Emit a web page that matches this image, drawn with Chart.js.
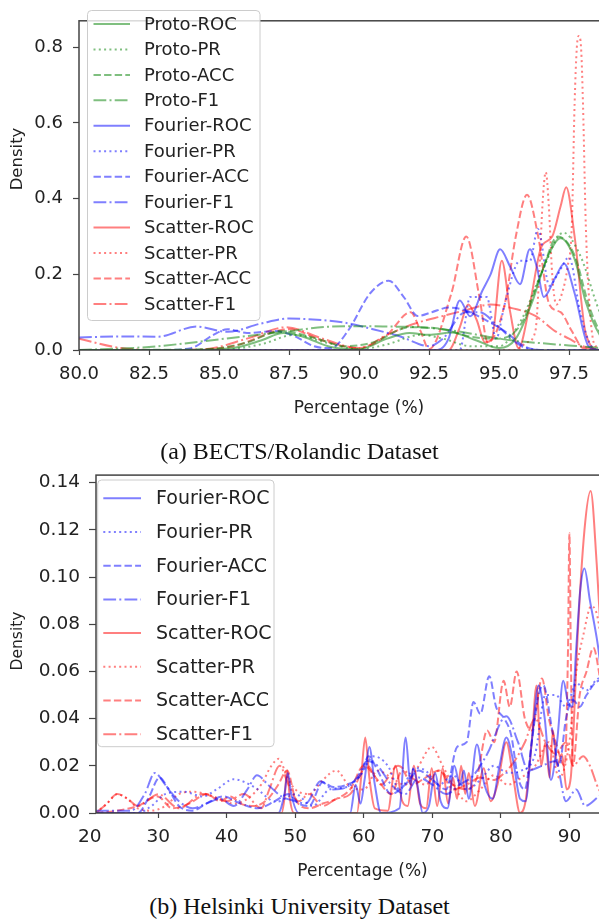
<!DOCTYPE html>
<html>
<head>
<meta charset="utf-8">
<script src="https://cdn.jsdelivr.net/npm/chart.js@4.4.1/dist/chart.umd.min.js"></script>
<style>
  body { margin: 0; background: #fff; width: 599px; height: 921px; position: relative; overflow: hidden; }
  canvas { position: absolute; left: 0; }
  #chartA { top: 0; }
  #chartB { top: 455px; }
  .caption { position: absolute; left: 0; width: 599px; text-align: center; font-family: "Liberation Serif"; font-size: 24px; line-height: 26px; color: #111; }
</style>
</head>
<body>
<canvas id="chartA" width="639" height="425"></canvas>
<canvas id="chartB" width="629" height="430"></canvas>
<div class="caption" style="top:438px">(a) BECTS/Rolandic Dataset</div>
<div class="caption" style="top:893px">(b) Helsinki University Dataset</div>
<script>
// ---- (a) BECTS/Rolandic : percentage vs density
const aProtoRocX = [80, 84, 85.5, 86.5, 87.3, 88, 89, 90, 91, 91.8, 92.5, 93.3, 94.2, 95, 95.6, 96.2, 96.7, 97.2, 97.7, 98.1, 98.6, 99.2, 100];
const aProtoRocY = [0, 0, 0.005, 0.025, 0.045, 0.035, 0.008, 0.002, 0.03, 0.045, 0.04, 0.046, 0.025, 0.005, 0.03, 0.13, 0.24, 0.295, 0.24, 0.127, 0.04, 0.005, 0];
const aProtoPrX = [80, 85, 86.5, 87.7, 88.8, 90, 91, 92.2, 93, 94, 95, 95.8, 96.5, 97.3, 97.9, 98.6, 99.3, 100];
const aProtoPrY = [0, 0, 0.015, 0.04, 0.02, 0.002, 0.015, 0.04, 0.03, 0.01, 0.01, 0.08, 0.2, 0.31, 0.25, 0.1, 0.01, 0];
const aProtoAccX = [80, 84.5, 86, 87.2, 88.5, 89.5, 90.5, 91.8, 93, 94, 95, 95.8, 96.5, 97.1, 97.7, 98.2, 98.6, 99.3, 100];
const aProtoAccY = [0, 0.002, 0.02, 0.05, 0.03, 0.01, 0.02, 0.06, 0.055, 0.035, 0.03, 0.07, 0.2, 0.3, 0.25, 0.12, 0.05, 0.01, 0];
const aProtoF1X = [80, 82.5, 85, 87.5, 89, 90, 91, 92.2, 93.5, 94.6, 95.5, 96.5, 97.5, 98.6, 100];
const aProtoF1Y = [0, 0.008, 0.028, 0.05, 0.062, 0.063, 0.062, 0.06, 0.05, 0.035, 0.025, 0.018, 0.012, 0.006, 0.002];

const aFourierRocX = [80, 92.8, 93.2, 93.6, 93.97, 94.4, 94.7, 95.04, 95.4, 95.75, 96.1, 96.35, 96.6, 97, 97.33, 97.7, 98.2, 98.6, 100];
const aFourierRocY = [0, 0, 0.03, 0.131, 0.089, 0.156, 0.2, 0.266, 0.22, 0.174, 0.266, 0.22, 0.14, 0.19, 0.228, 0.15, 0.01, 0, 0];
const aFourierPrX = [80, 93.6, 93.97, 94.56, 94.9, 95.2, 95.75, 96.1, 96.39, 96.8, 97.1, 97.5, 97.9, 98.3, 98.6, 100];
const aFourierPrY = [0, 0, 0.14, 0.14, 0.03, 0.12, 0.236, 0.235, 0.32, 0.17, 0.2, 0.245, 0.1, 0.01, 0, 0];
const aFourierAccX = [80, 83, 84, 84.8, 85.3, 86, 87, 87.6, 88.4, 89, 89.6, 90.4, 91.06, 91.6, 92.1, 92.6, 93.2, 93.8, 94.5, 95.2, 95.9, 96.5, 100];
const aFourierAccY = [0, 0, 0.005, 0.04, 0.055, 0.045, 0.05, 0.04, 0.01, 0.005, 0.05, 0.15, 0.183, 0.14, 0.09, 0.1, 0.112, 0.105, 0.08, 0.05, 0.01, 0, 0];
const aFourierF1X = [80, 81.5, 82.8, 84.2, 85.3, 86.5, 87.5, 88.5, 89.5, 90.5, 91.5, 92.5, 93, 93.8, 94.3, 95, 95.8, 96.5, 100];
const aFourierF1Y = [0.033, 0.036, 0.035, 0.062, 0.048, 0.07, 0.083, 0.08, 0.072, 0.055, 0.035, 0.01, 0.03, 0.1, 0.1, 0.06, 0.01, 0, 0];

const aScatterRocX = [80, 93.2, 93.6, 93.9, 94.2, 94.5, 94.75, 95.1, 95.4, 95.7, 96.1, 96.5, 96.9, 97.2, 97.4, 97.7, 98.1, 98.6, 100];
const aScatterRocY = [0, 0, 0.06, 0.12, 0.08, 0.02, 0.03, 0.236, 0.1, 0.005, 0.12, 0.27, 0.3, 0.38, 0.43, 0.3, 0.043, 0, 0];
const aScatterPrX = [80, 95.6, 96, 96.3, 96.45, 96.55, 96.67, 96.78, 96.9, 97.05, 97.25, 97.45, 97.6, 97.7, 97.78, 97.85, 97.93, 98, 98.1, 98.25, 98.45, 100];
const aScatterPrY = [0, 0, 0.02, 0.05, 0.22, 0.38, 0.47, 0.38, 0.2, 0.12, 0.15, 0.22, 0.33, 0.65, 0.8, 0.83, 0.8, 0.65, 0.33, 0.1, 0.01, 0];
const aScatterAccX = [80, 84, 85.5, 87.5, 88.7, 90, 91, 91.84, 92.2, 92.5, 93.3, 93.83, 94.3, 94.6, 95.2, 95.6, 96, 96.4, 96.8, 97.2, 97.6, 98, 98.6, 100];
const aScatterAccY = [0, 0, 0.01, 0.055, 0.025, 0.005, 0.04, 0.1, 0.05, 0.002, 0.15, 0.3, 0.14, 0.02, 0.12, 0.3, 0.41, 0.3, 0.12, 0.1, 0.05, 0.005, 0, 0];
const aScatterF1X = [80, 81.5, 83, 84.5, 86, 87.4, 88.7, 90, 91, 92, 93, 93.8, 94.7, 95.5, 96.3, 97, 97.5, 98, 98.6, 100];
const aScatterF1Y = [0.03, 0.005, 0, 0.002, 0.03, 0.06, 0.03, 0.005, 0.04, 0.07, 0.09, 0.105, 0.12, 0.11, 0.09, 0.05, 0.03, 0.01, 0, 0];

// ---- (b) Helsinki University
const bFourierRocX = [20.9, 47.5, 48.4, 48.9, 49.4, 50.5, 58, 58.8, 59.5, 60.1, 60.8, 61.6, 62.5, 65.2, 66.1, 66.8, 67.2, 67.8, 68.6, 69.5, 70.4, 71.2, 72.2, 73.2, 74, 74.6, 75.3, 76.5, 77.6, 78.8, 79.8, 80.8, 81.8, 82.8, 83.6, 84.5, 85.5, 86.4, 87.3, 88.2, 89.1, 89.8, 90.4, 91, 91.6, 92.2, 93, 94, 94.3, 96, 98.7];
const bFourierRocY = [0, 0, 0.008, 0.017, 0.008, 0, 0, 0.012, 0.004, 0.014, 0.028, 0.012, 0, 0.002, 0.032, 0.012, 0.019, 0.012, 0, 0.003, 0.017, 0.005, 0.002, 0.02, 0.012, 0.018, 0.006, 0.029, 0.012, 0.006, 0.02, 0.032, 0.022, 0.006, 0.005, 0.03, 0.054, 0.04, 0.014, 0.03, 0.056, 0.047, 0.045, 0.07, 0.095, 0.1036, 0.09, 0.074, 0.068, 0.02, 0];
const bFourierPrX = [20.9, 27, 29, 31, 33.7, 36.5, 38.5, 41, 44, 47.2, 50, 52.5, 55, 57.5, 59.5, 61.4, 63.5, 65.2, 67.5, 69, 71, 73, 75, 77, 79, 81, 83, 85, 86.5, 88, 89.5, 91, 92.5, 94.3, 96, 98.7];
const bFourierPrY = [0, 0, 0.003, 0.008, 0.009, 0.007, 0.01, 0.0143, 0.011, 0.0047, 0.008, 0.003, 0.01, 0.011, 0.016, 0.024, 0.02, 0.01, 0.019, 0.018, 0.012, 0.016, 0.01, 0.014, 0.02, 0.017, 0.018, 0.025, 0.05, 0.05, 0.045, 0.055, 0.052, 0.057, 0.03, 0.005];
const bFourierAccX = [20.9, 27, 28.5, 30.2, 31.5, 33, 35, 37, 39.5, 42, 44.5, 47, 49, 50.5, 52, 54, 55.5, 57.5, 59.5, 60.7, 62, 64, 66, 68, 70, 72, 73.6, 75, 76, 77, 78.3, 79.3, 80.5, 81.5, 82.5, 83.5, 84.5, 85.5, 86.2, 87.5, 88.5, 89.5, 90.5, 91.5, 92.5, 94.3, 96, 98.7];
const bFourierAccY = [0, 0, 0.006, 0.015, 0.01, 0.003, 0.001, 0.004, 0.007, 0.004, 0.002, 0.005, 0.008, 0.004, 0.003, 0.013, 0.011, 0.012, 0.016, 0.024, 0.018, 0.008, 0.012, 0.018, 0.014, 0.01, 0.028, 0.03, 0.047, 0.042, 0.058, 0.045, 0.04, 0.033, 0.015, 0.01, 0.03, 0.05, 0.054, 0.035, 0.02, 0.04, 0.048, 0.045, 0.05, 0.056, 0.03, 0.005];
const bFourierF1X = [20.9, 26, 28, 29.5, 31, 33, 35, 37, 39, 41, 43, 44.4, 46, 48, 50, 51.5, 53.7, 55.5, 57.5, 59, 60.5, 62, 64, 66, 68, 70, 72, 74, 76, 78, 80.8, 82.5, 84, 86, 88, 89.5, 91, 92.3, 94.3, 96, 98.7];
const bFourierF1Y = [0.001, 0.001, 0.008, 0.017, 0.012, 0.005, 0.002, 0.004, 0.006, 0.003, 0.01, 0.016, 0.012, 0.007, 0.005, 0.004, 0.0135, 0.01, 0.011, 0.015, 0.022, 0.02, 0.012, 0.008, 0.015, 0.012, 0.008, 0.012, 0.016, 0.025, 0.041, 0.03, 0.018, 0.02, 0.022, 0.005, 0.01, 0.003, 0.007, 0.01, 0.005];

const bScatterRocX = [20.9, 48, 48.4, 48.8, 49.2, 49.8, 59, 59.6, 60.2, 60.8, 61.6, 63.5, 64.6, 65.6, 66.4, 67.3, 68.2, 69.1, 69.9, 70.7, 71.5, 72.3, 73, 73.6, 74.2, 74.8, 75.3, 76.2, 77.5, 78.5, 79.5, 80.8, 81.8, 82.8, 83.6, 84.5, 85.2, 85.9, 86.5, 87.1, 87.6, 88.2, 88.9, 89.6, 90.2, 90.6, 91.2, 92.2, 93.1, 94, 94.3, 96, 98.7];
const bScatterRocY = [0, 0, 0.006, 0.018, 0.006, 0, 0, 0.015, 0.032, 0.015, 0.002, 0.001, 0.02, 0.005, 0.003, 0.02, 0.004, 0.002, 0.019, 0.003, 0.019, 0.004, 0.015, 0.006, 0.02, 0.008, 0.017, 0.003, 0.019, 0.005, 0.012, 0.03, 0.015, 0, 0.005, 0.03, 0.054, 0.02, 0.03, 0.015, 0.035, 0.02, 0.025, 0.01, 0.015, 0.035, 0.075, 0.12, 0.1365, 0.105, 0.09, 0.02, 0];
const bScatterPrX = [20.9, 22.5, 24, 25.5, 27, 29, 31, 33, 35, 37, 39, 41, 43, 45, 46.5, 47.6, 48.8, 50, 52, 54, 56, 58, 60, 62, 64, 66, 68, 69.9, 71.5, 73, 75, 77, 79, 81, 83, 85, 87, 88.5, 90, 91, 92, 93.2, 94.3, 96, 98.7];
const bScatterPrY = [0, 0.004, 0.008, 0.006, 0.002, 0.001, 0.003, 0.008, 0.009, 0.008, 0.006, 0.004, 0.006, 0.012, 0.02, 0.023, 0.015, 0.01, 0.008, 0.014, 0.018, 0.011, 0.01, 0.018, 0.015, 0.012, 0.02, 0.028, 0.02, 0.012, 0.005, 0.01, 0.016, 0.012, 0.015, 0.02, 0.03, 0.015, 0.03, 0.06, 0.075, 0.0877, 0.08, 0.03, 0.005];
const bScatterAccX = [20.9, 24, 27, 29.9, 32, 34.5, 37.1, 39, 40.5, 42, 44, 46, 47.5, 48.8, 50, 52, 54, 56, 58, 60, 62, 64, 65.6, 67, 69, 71, 73, 75, 76.5, 78, 79, 80.4, 81.3, 82.3, 83.5, 84.5, 86, 87, 88, 89.3, 89.8, 90, 90.2, 90.5, 91.5, 92.5, 93.5, 94.3, 96, 98.7];
const bScatterAccY = [0, 0.001, 0.003, 0.007, 0.002, 0.004, 0.008, 0.005, 0.007, 0.004, 0.003, 0.006, 0.012, 0.018, 0.006, 0.002, 0.004, 0.006, 0.01, 0.02, 0.014, 0.008, 0.018, 0.012, 0.015, 0.018, 0.012, 0.01, 0.015, 0.035, 0.03, 0.056, 0.045, 0.06, 0.04, 0.035, 0.057, 0.04, 0.03, 0.02, 0.07, 0.1186, 0.07, 0.02, 0.05, 0.06, 0.07, 0.06, 0.02, 0.003];
const bScatterF1X = [20.9, 22.5, 24, 25.5, 27, 30, 33, 36.5, 40, 42.5, 45, 46.2, 47.7, 49, 50.5, 52, 54, 56, 58, 60.5, 62.5, 65, 67, 69, 71, 73, 75, 77, 79, 80.5, 82, 83.5, 85, 86.5, 88, 89.5, 90.5, 92, 93, 94.3, 96, 98.7];
const bScatterF1Y = [0, 0.004, 0.008, 0.006, 0.003, 0.008, 0.002, 0.008, 0.005, 0.008, 0.002, 0.01, 0.02, 0.012, 0.005, 0.008, 0.003, 0.006, 0.008, 0.02, 0.012, 0.02, 0.015, 0.012, 0.018, 0.01, 0.012, 0.015, 0.014, 0.017, 0.022, 0.03, 0.04, 0.03, 0.025, 0.03, 0.02, 0.024, 0.02, 0.01, 0.005, 0.002];

const aTicksX = [80, 82.5, 85, 87.5, 90, 92.5, 95, 97.5];
const bTicksX = [20, 30, 40, 50, 60, 70, 80, 90];

// ---- styles
const GREEN = 'rgba(0,128,0,0.5)';
const BLUE = 'rgba(0,0,255,0.5)';
const RED = 'rgba(255,0,0,0.5)';
const DASH = { solid: [], dotted: [2, 3.3], dashed: [7.4, 3.2], dashdot: [12.8, 3.2, 2, 3.2] };
const INK = '#222';
const AXIS = '#444';

Chart.defaults.font.family = 'DejaVu Sans';
Chart.defaults.color = INK;
Chart.defaults.animation = false;

function series(label, xs, ys, color, dash) {
  return {
    label: label,
    data: xs.map((x, i) => ({ x: x, y: ys[i] })),
    borderColor: color,
    borderDash: DASH[dash],
    borderWidth: 2,
    pointRadius: 0,
    fill: false,
    cubicInterpolationMode: 'monotone'
  };
}

// all four spines, drawn over the curves like matplotlib
const spines = {
  id: 'spines',
  afterDatasetsDraw(chart) {
    const ctx = chart.ctx, a = chart.chartArea;
    ctx.save();
    ctx.strokeStyle = AXIS;
    ctx.lineWidth = 1.5;
    ctx.strokeRect(a.left, a.top, a.right - a.left, a.bottom - a.top);
    ctx.restore();
  }
};

// matplotlib-like framed legend in the upper-left corner
const boxLegend = {
  id: 'boxLegend',
  afterDatasetsDraw(chart, args, o) {
    const ctx = chart.ctx;
    ctx.save();
    ctx.beginPath();
    ctx.roundRect(o.x, o.y, o.w, o.h, 4);
    ctx.fillStyle = 'rgba(255,255,255,0.8)';
    ctx.fill();
    ctx.strokeStyle = '#cccccc';
    ctx.lineWidth = 1;
    ctx.stroke();
    ctx.font = o.size + 'px "DejaVu Sans"';
    ctx.textBaseline = 'middle';
    chart.data.datasets.forEach((ds, i) => {
      const y = o.first + i * o.step;
      ctx.beginPath();
      ctx.setLineDash(ds.borderDash);
      ctx.strokeStyle = ds.borderColor;
      ctx.lineWidth = ds.borderWidth;
      ctx.moveTo(o.lineFrom, y);
      ctx.lineTo(o.lineTo, y);
      ctx.stroke();
      ctx.setLineDash([]);
      ctx.fillStyle = INK;
      ctx.fillText(ds.label, o.textX, y + 1);
    });
    ctx.restore();
  }
};

// rotated y title placed where the reference has it
const sideLabel = {
  id: 'sideLabel',
  afterDraw(chart, args, o) {
    const ctx = chart.ctx;
    ctx.save();
    ctx.translate(o.x, o.y);
    ctx.rotate(-Math.PI / 2);
    ctx.font = o.size + 'px "DejaVu Sans"';
    ctx.fillStyle = INK;
    ctx.textAlign = 'center';
    ctx.textBaseline = 'middle';
    ctx.fillText('Density', 0, 0);
    ctx.restore();
  }
};

function axisX(min, max, ticks, fmt, height, fontSize, tickPad, titlePad) {
  return {
    type: 'linear', min: min, max: max,
    afterBuildTicks: ax => { ax.ticks = ticks.map(v => ({ value: v })); },
    afterFit: ax => { ax.height = height; },
    grid: {
      drawOnChartArea: false, tickLength: 5, tickWidth: 1.2,
      tickColor: c => (c.tick && c.tick.value < min ? 'rgba(0,0,0,0)' : AXIS)
    },
    border: { display: false },
    ticks: { autoSkip: false, maxRotation: 0, padding: tickPad, font: { size: fontSize }, callback: fmt },
    title: { display: true, text: 'Percentage (%)', font: { size: 17 }, padding: { top: 0, bottom: titlePad } }
  };
}

function axisY(max, step, fmt, width, fontSize, tickLen, tickPad) {
  return {
    min: 0, max: max,
    afterFit: ax => { ax.width = width; },
    grid: { drawOnChartArea: false, tickLength: tickLen, tickWidth: 1.2, tickColor: AXIS },
    border: { display: false },
    ticks: { stepSize: step, includeBounds: false, padding: tickPad, font: { size: fontSize }, callback: fmt }
  };
}

new Chart(document.getElementById('chartA'), {
  type: 'line',
  data: {
    datasets: [
      series('Proto-ROC', aProtoRocX, aProtoRocY, GREEN, 'solid'),
      series('Proto-PR', aProtoPrX, aProtoPrY, GREEN, 'dotted'),
      series('Proto-ACC', aProtoAccX, aProtoAccY, GREEN, 'dashed'),
      series('Proto-F1', aProtoF1X, aProtoF1Y, GREEN, 'dashdot'),
      series('Fourier-ROC', aFourierRocX, aFourierRocY, BLUE, 'solid'),
      series('Fourier-PR', aFourierPrX, aFourierPrY, BLUE, 'dotted'),
      series('Fourier-ACC', aFourierAccX, aFourierAccY, BLUE, 'dashed'),
      series('Fourier-F1', aFourierF1X, aFourierF1Y, BLUE, 'dashdot'),
      series('Scatter-ROC', aScatterRocX, aScatterRocY, RED, 'solid'),
      series('Scatter-PR', aScatterPrX, aScatterPrY, RED, 'dotted'),
      series('Scatter-ACC', aScatterAccX, aScatterAccY, RED, 'dashed'),
      series('Scatter-F1', aScatterF1X, aScatterF1Y, RED, 'dashdot')
    ]
  },
  options: {
    responsive: false,
    devicePixelRatio: 1,
    layout: { padding: { top: 5, right: 0, bottom: 0, left: 0 } },
    scales: {
      x: axisX(80, 100, aTicksX, v => v.toFixed(1), 75, 18, 9, 6),
      y: axisY(0.87, 0.2, v => v.toFixed(1), 79, 18, 6, 10)
    },
    plugins: {
      legend: { display: false },
      tooltip: { enabled: false },
      boxLegend: { x: 87.5, y: 10.5, w: 172.5, h: 310, first: 24, step: 25.45, lineFrom: 93.5, lineTo: 130, textX: 144, size: 18 },
      sideLabel: { x: 17.5, y: 159, size: 16.5 }
    }
  },
  plugins: [spines, boxLegend, sideLabel]
});

new Chart(document.getElementById('chartB'), {
  type: 'line',
  data: {
    datasets: [
      series('Fourier-ROC', bFourierRocX, bFourierRocY, BLUE, 'solid'),
      series('Fourier-PR', bFourierPrX, bFourierPrY, BLUE, 'dotted'),
      series('Fourier-ACC', bFourierAccX, bFourierAccY, BLUE, 'dashed'),
      series('Fourier-F1', bFourierF1X, bFourierF1Y, BLUE, 'dashdot'),
      series('Scatter-ROC', bScatterRocX, bScatterRocY, RED, 'solid'),
      series('Scatter-PR', bScatterPrX, bScatterPrY, RED, 'dotted'),
      series('Scatter-ACC', bScatterAccX, bScatterAccY, RED, 'dashed'),
      series('Scatter-F1', bScatterF1X, bScatterF1Y, RED, 'dashdot')
    ]
  },
  options: {
    responsive: false,
    devicePixelRatio: 1,
    layout: { padding: { top: 18.3, right: 0, bottom: 0, left: 0 } },
    scales: {
      x: axisX(20.9, 98.7, bTicksX, v => String(v), 72, 18.5, 8, 3),
      y: axisY(0.1432, 0.02, v => v.toFixed(2), 96, 18.5, 7, 9)
    },
    plugins: {
      legend: { display: false },
      tooltip: { enabled: false },
      boxLegend: { x: 97.7, y: 25, w: 176.3, h: 266.7, first: 43.3, step: 33.7, lineFrom: 103.3, lineTo: 141, textX: 156, size: 19 },
      sideLabel: { x: 17.5, y: 186, size: 15.5 }
    }
  },
  plugins: [spines, boxLegend, sideLabel]
});
</script>
</body>
</html>
